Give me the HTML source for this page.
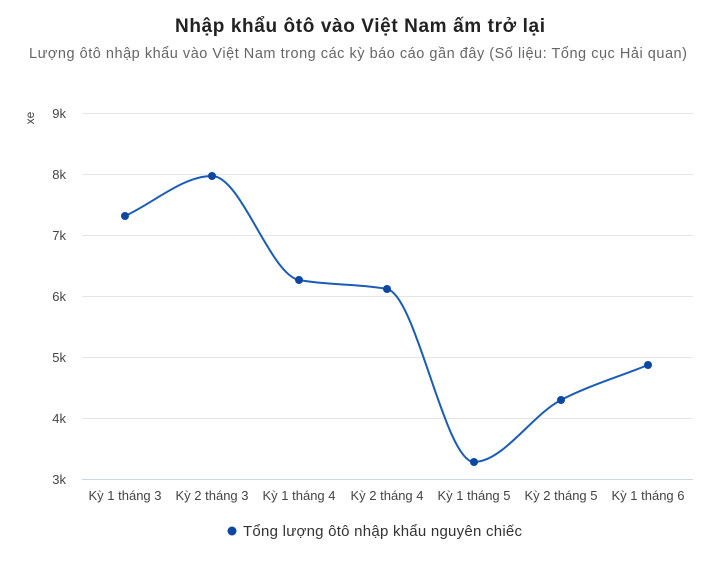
<!DOCTYPE html>
<html><head><meta charset="utf-8"><style>
body{margin:0;background:#fff;font-family:"Liberation Sans","DejaVu Sans",sans-serif;}
</style></head><body>
<svg width="720" height="559" xmlns="http://www.w3.org/2000/svg" font-family="Liberation Sans, DejaVu Sans, sans-serif">
<rect width="720" height="559" fill="#fff"/>
<text x="360" y="32" text-anchor="middle" font-size="19" font-weight="bold" fill="#222" textLength="370">Nhập khẩu ôtô vào Việt Nam ấm trở lại</text>
<text x="358" y="58" text-anchor="middle" font-size="14.5" fill="#666" textLength="658">Lượng ôtô nhập khẩu vào Việt Nam trong các kỳ báo cáo gần đây (Số liệu: Tổng cục Hải quan)</text>
<g stroke="#e6e6e6" stroke-width="1">
<line x1="82" x2="693" y1="113.5" y2="113.5"/><line x1="82" x2="693" y1="174.5" y2="174.5"/>
<line x1="82" x2="693" y1="235.5" y2="235.5"/><line x1="82" x2="693" y1="296.5" y2="296.5"/>
<line x1="82" x2="693" y1="357.5" y2="357.5"/><line x1="82" x2="693" y1="418.5" y2="418.5"/>
</g>
<line x1="82" x2="693" y1="479.5" y2="479.5" stroke="#ccd6eb"/>
<g font-size="13" fill="#444" text-anchor="end">
<text x="66" y="118">9k</text><text x="66" y="179">8k</text><text x="66" y="240">7k</text>
<text x="66" y="301">6k</text><text x="66" y="362">5k</text><text x="66" y="423">4k</text><text x="66" y="484">3k</text>
</g>
<text transform="translate(34,118) rotate(-90)" font-size="12" fill="#444" text-anchor="middle">xe</text>
<g font-size="13" fill="#444" text-anchor="middle">
<text x="125" y="500">Kỳ 1 tháng 3</text><text x="212" y="500">Kỳ 2 tháng 3</text><text x="299" y="500">Kỳ 1 tháng 4</text>
<text x="387" y="500">Kỳ 2 tháng 4</text><text x="474" y="500">Kỳ 1 tháng 5</text><text x="561" y="500">Kỳ 2 tháng 5</text>
<text x="648" y="500">Kỳ 1 tháng 6</text>
</g>
<path d="M125,216 C154,202.7 183,176 212,176 C241,176 270,274.5 299,280 C328,285.5 358,283.4 387,289 C416,294.6 445,462 474,462 C503,462 532,414.9 561,400 C590,385.1 619,376.7 648,365" fill="none" stroke="#1a5cb8" stroke-width="2"/>
<g fill="#0d47a1">
<circle cx="125" cy="216" r="4"/><circle cx="212" cy="176" r="4"/><circle cx="299" cy="280" r="4"/>
<circle cx="387" cy="289" r="4"/><circle cx="474" cy="462" r="4"/><circle cx="561" cy="400" r="4"/><circle cx="648" cy="365" r="4"/>
</g>
<circle cx="232" cy="531" r="4.5" fill="#0d47a1"/>
<text x="243" y="536" font-size="15" fill="#333" textLength="279">Tổng lượng ôtô nhập khẩu nguyên chiếc</text>
</svg>
</body></html>
